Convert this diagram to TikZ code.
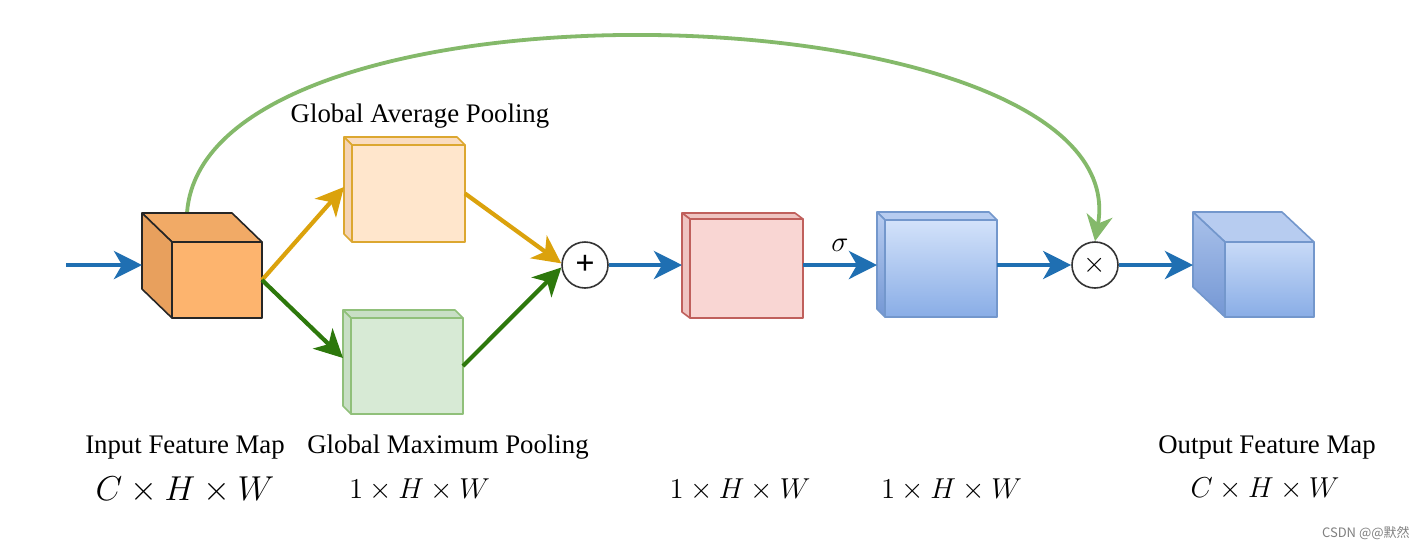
\documentclass[tikz,border=0pt]{standalone}
\usepackage{fontspec}
\setmainfont{Liberation Serif}
\newfontfamily\cjkfont{Noto Sans CJK SC}
\usetikzlibrary{arrows.meta,calc}
\definecolor{flowblue}{HTML}{1F6FB2}
\definecolor{flowora}{HTML}{DBA20C}
\definecolor{flowgrn}{HTML}{2D780C}
\definecolor{skipgrn}{HTML}{84B96A}
\definecolor{cubefront}{HTML}{FDB46E}
\definecolor{cubetop}{HTML}{F1AA66}
\definecolor{cubeside}{HTML}{E8A05D}
\definecolor{ylwline}{HTML}{DCA730}
\definecolor{ylwfill}{HTML}{FFE6CC}
\definecolor{ylwtop}{HTML}{FADCC0}
\definecolor{ylwside}{HTML}{F4D4B5}
\definecolor{grnline}{HTML}{90C07A}
\definecolor{grnfill}{HTML}{D7EAD5}
\definecolor{grnside}{HTML}{C8DFC5}
\definecolor{redline}{HTML}{C0605C}
\definecolor{redfill}{HTML}{F9D6D3}
\definecolor{redside}{HTML}{EFC4C1}
\definecolor{bluline}{HTML}{7397CC}
\definecolor{blutop}{HTML}{D3E2FA}
\definecolor{blubot}{HTML}{89ADE6}
\definecolor{blusidetop}{HTML}{B7CCF0}
\definecolor{blusidebot}{HTML}{7497D4}
\definecolor{markgray}{HTML}{808080}
\begin{document}
\begin{tikzpicture}[x=0.5pt,y=-0.5pt,
  face/.style={inner sep=0pt, outer sep=0pt, line width=0.8pt, line join=round},
  flow/.style={line width=2.1pt, -{Stealth[length=14pt,width=14pt,inset=4pt]}},
  skip/.style={line width=1.9pt, draw=skipgrn, -{Stealth[length=13pt,width=13pt,inset=4pt]}},
  opcircle/.style={circle, draw=black!80, line width=0.8pt, fill=white, minimum size=23pt, inner sep=0pt},
  lbl/.style={font=\fontsize{13.4}{16}\selectfont, anchor=base, inner sep=0pt}
]
\useasboundingbox (0,0) rectangle (1425,548);
\fill[white] (0,0) rectangle (1425,548);

% operator circles
\node[opcircle, font=\fontsize{17}{17}\selectfont\bfseries] (plus) at (585,265) {+};
\node[opcircle, font=\fontsize{14}{14}\selectfont] (times) at (1095,265) {$\times$};

% input cube (front face + depth)
\node[face, draw=black!85, fill=cubefront, minimum width=45pt, minimum height=38pt] (inF) at (217,280) {};
\coordinate (curveS) at ([xshift=7.5pt,yshift=14.5pt]inF.north west);
\draw[skip] (curveS) .. controls (205,-40) and (1140,-12) .. (times.north);
\draw[face, draw=black!85, fill=cubetop] (inF.north west) -- ++(-30,-29) -- ++(90,0) -- (inF.north east) -- cycle;
\draw[face, draw=black!85, fill=cubeside] (inF.north west) -- ++(-30,-29) -- ++(0,76) -- (inF.south west) -- cycle;
\coordinate (inL) at ([xshift=-15pt,yshift=7.5pt]inF.west);

% global average pooling
\node[face, draw=ylwline, fill=ylwfill, minimum width=56.5pt, minimum height=48.5pt] (gapF) at (408.5,193.5) {};
\draw[face, draw=ylwline, fill=ylwtop] (gapF.north west) -- ++(-8,-8) -- ++(113,0) -- (gapF.north east) -- cycle;
\draw[face, draw=ylwline, fill=ylwside] (gapF.north west) -- ++(-8,-8) -- ++(0,97) -- (gapF.south west) -- cycle;
\coordinate (gapL) at ([xshift=-4pt,yshift=3.25pt]gapF.west);

% global max pooling
\node[face, draw=grnline, fill=grnfill, minimum width=56pt, minimum height=48pt] (gmpF) at (407,366) {};
\draw[face, draw=grnline, fill=grnside] (gmpF.north west) -- ++(-8,-8) -- ++(112,0) -- (gmpF.north east) -- cycle;
\draw[face, draw=grnline, fill=grnside] (gmpF.north west) -- ++(-8,-8) -- ++(0,96) -- (gmpF.south west) -- cycle;
\coordinate (gmpL) at ([xshift=-4pt,yshift=4pt]gmpF.west);

% conv (red)
\node[face, draw=redline, fill=redfill, minimum width=56.5pt, minimum height=49.5pt] (convF) at (746.5,268.5) {};
\draw[face, draw=redline, fill=redside] (convF.north west) -- ++(-8,-6) -- ++(113,0) -- (convF.north east) -- cycle;
\draw[face, draw=redline, fill=redside] (convF.north west) -- ++(-8,-6) -- ++(0,99) -- (convF.south west) -- cycle;
\coordinate (convL) at ([xshift=-4pt,yshift=1.75pt]convF.west);

% sigmoid map (blue)
\node[face, draw=bluline, top color=blutop, bottom color=blubot, minimum width=56pt, minimum height=48.5pt] (sigF) at (941,268.5) {};
\draw[face, draw=bluline, fill=blusidetop] (sigF.north west) -- ++(-8,-8) -- ++(112,0) -- (sigF.north east) -- cycle;
\draw[face, draw=bluline, top color=blusidetop, bottom color=blusidebot] (sigF.north west) -- ++(-8,-8) -- ++(0,97) -- (sigF.south west) -- cycle;
\coordinate (sigL) at ([xshift=-4pt,yshift=1.75pt]sigF.west);

% output cube
\node[face, draw=bluline, top color=blutop!85!blubot, bottom color=blubot, minimum width=44.5pt, minimum height=37.5pt] (outF) at (1269.5,279.5) {};
\draw[face, draw=bluline, fill=blusidetop] (outF.north west) -- ++(-32,-30) -- ++(89,0) -- (outF.north east) -- cycle;
\draw[face, draw=bluline, top color=blusidetop!80!blusidebot, bottom color=blusidebot] (outF.north west) -- ++(-32,-30) -- ++(0,75) -- (outF.south west) -- cycle;
\coordinate (outL) at ([xshift=-16pt,yshift=7.25pt]outF.west);

% connectors
\coordinate (inStart) at (66,265);
\draw[flow, draw=flowblue] (inStart) -- (inL);
\draw[flow, draw=flowora] (inF.east) -- (gapL);
\draw[flow, draw=flowgrn] (inF.east) -- (gmpL);
\draw[flow, draw=flowora] (gapF.east) -- (plus.176);
\draw[flow, draw=flowgrn] (gmpF.east) -- (plus.186);
\draw[flow, draw=flowblue] (plus.east) -- (convL);
\draw[flow, draw=flowblue] (convF.east |- sigL) -- node[midway, above=5.5pt, inner sep=0pt, font=\fontsize{14}{14}\selectfont] (sigma) {$\sigma$} (sigL);
\draw[flow, draw=flowblue] (sigF.east |- times.west) -- (times.west);
\draw[flow, draw=flowblue] (times.east) -- (outL);

% labels
\node[lbl] (tgap) at (420,122) {Global Average Pooling};
\node[lbl] (tin) at (185,453) {Input Feature Map};
\node[lbl] (tgmp) at (448,453) {Global Maximum Pooling};
\node[lbl] (tout) at (1267,453) {Output Feature Map};
\node[lbl, font=\fontsize{16.8}{18}\selectfont] (din) at (185,500) {$C\times H\times W$};
\node[lbl, font=\fontsize{14.3}{16}\selectfont] (dgap) at (419.5,498) {$1\times H\times W$};
\node[lbl, font=\fontsize{14.3}{16}\selectfont] (dconv) at (740,498) {$1\times H\times W$};
\node[lbl, font=\fontsize{14.3}{16}\selectfont] (dsig) at (951.5,498) {$1\times H\times W$};
\node[lbl, font=\fontsize{13.8}{16}\selectfont] (dout) at (1265,497) {$C\times H\times W$};
\node[anchor=base east, inner sep=0pt, text=markgray, font=\cjkfont\fontsize{6.5}{8}\selectfont] (mark) at (1410,537) {CSDN @@默然};
\end{tikzpicture}
\end{document}
